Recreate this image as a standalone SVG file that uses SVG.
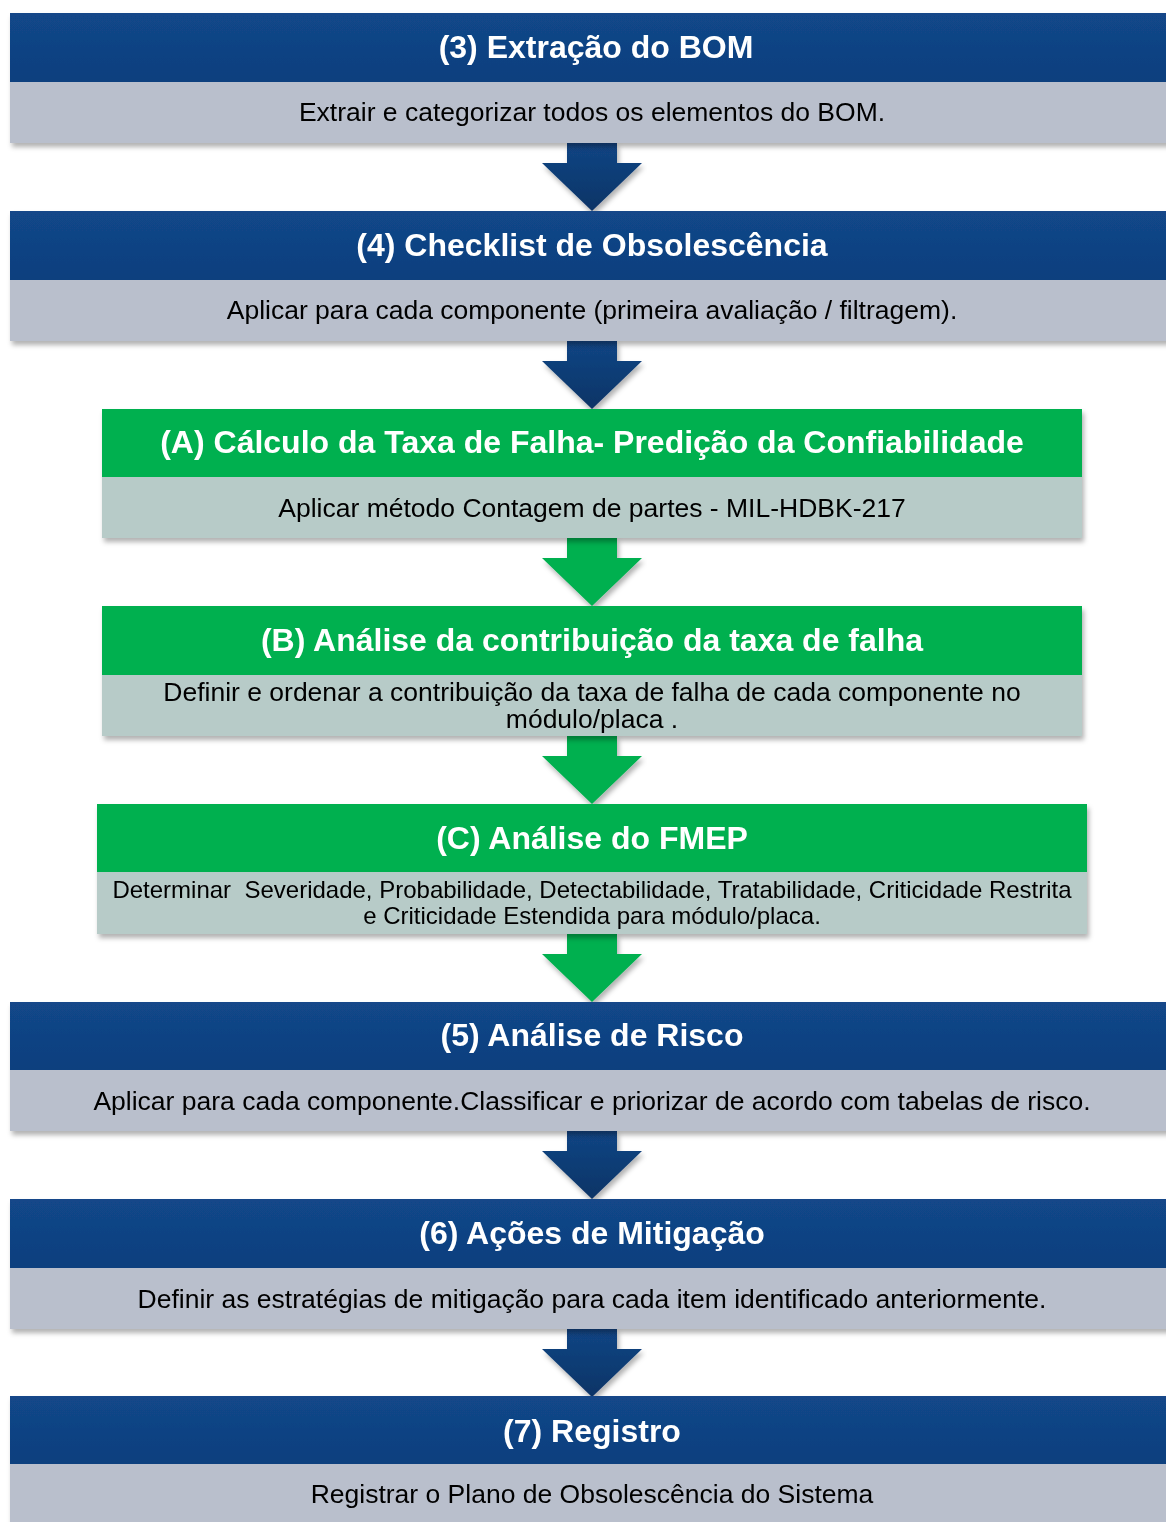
<svg xmlns="http://www.w3.org/2000/svg" width="1166" height="1522" viewBox="0 0 1166 1522">
<defs>
<style>
.hb{fill:url(#gb)}
.hg{fill:#00b050}
.bb{fill:#b9bfcc}
.bg{fill:#b7cbc8}
.t{font-family:"Liberation Sans",Arial,sans-serif;font-weight:bold;font-size:32px;fill:#fff;text-anchor:middle}
.d{font-family:"Liberation Sans",Arial,sans-serif;font-size:26.5px;fill:#000;text-anchor:middle}
.dc{font-family:"Liberation Sans",Arial,sans-serif;font-size:24px;fill:#000;text-anchor:middle;white-space:pre}
.ab{fill:url(#ga)}
.ag{fill:#00b050}
</style>
<linearGradient id="gb" x1="0" y1="0" x2="0" y2="1">
<stop offset="0" stop-color="#124789"/>
<stop offset="1" stop-color="#0f3f7e"/>
</linearGradient>
<linearGradient id="ga" x1="0" y1="0" x2="0" y2="1">
<stop offset="0" stop-color="#124584"/>
<stop offset="1" stop-color="#0d3466"/>
</linearGradient>
<filter id="sh" x="-5%" y="-20%" width="110%" height="150%">
<feDropShadow dx="2" dy="4" stdDeviation="2.5" flood-color="#000" flood-opacity="0.3"/>
</filter>
<path id="arr" d="M-25,0 H25 V20 H50 L0,68 L-50,20 H-25 Z"/>
</defs>
<rect width="1166" height="1522" fill="#fff"/>
<g id="connectors" filter="url(#sh)">
<use href="#arr" x="592" y="143" class="ab"/>
<use href="#arr" x="592" y="341" class="ab"/>
<use href="#arr" x="592" y="538" class="ag"/>
<use href="#arr" x="592" y="736" class="ag"/>
<use href="#arr" x="592" y="934" class="ag"/>
<use href="#arr" x="592" y="1131" class="ab"/>
<use href="#arr" x="592" y="1329" class="ab"/>
</g>
<g id="n3" filter="url(#sh)">
<rect x="10" y="13" width="1170" height="69" class="hb"/>
<rect x="10" y="82" width="1170" height="61" class="bb"/>
</g>
<text x="596" y="58" class="t">(3) Extração do BOM</text>
<text x="592" y="121" class="d">Extrair e categorizar todos os elementos do BOM.</text>
<g id="n4" filter="url(#sh)">
<rect x="10" y="211" width="1170" height="69" class="hb"/>
<rect x="10" y="280" width="1170" height="61" class="bb"/>
</g>
<text x="592" y="256" class="t">(4) Checklist de Obsolescência</text>
<text x="592" y="319" class="d">Aplicar para cada componente (primeira avaliação / filtragem).</text>
<g id="nA" filter="url(#sh)">
<rect x="102" y="409" width="980" height="68" class="hg"/>
<rect x="102" y="477" width="980" height="61" class="bg"/>
</g>
<text x="592" y="453" class="t">(A) Cálculo da Taxa de Falha- Predição da Confiabilidade</text>
<text x="592" y="517" class="d">Aplicar método Contagem de partes - MIL-HDBK-217</text>
<g id="nB" filter="url(#sh)">
<rect x="102" y="606" width="980" height="69" class="hg"/>
<rect x="102" y="675" width="980" height="61" class="bg"/>
</g>
<text x="592" y="651" class="t">(B) Análise da contribuição da taxa de falha</text>
<text x="592" y="701" class="d">Definir e ordenar a contribuição da taxa de falha de cada componente no</text>
<text x="592" y="728" class="d">módulo/placa .</text>
<g id="nC" filter="url(#sh)">
<rect x="97" y="804" width="990" height="68" class="hg"/>
<rect x="97" y="872" width="990" height="62" class="bg"/>
</g>
<text x="592" y="849" class="t">(C) Análise do FMEP</text>
<text x="592" y="898" class="dc">Determinar  Severidade, Probabilidade, Detectabilidade, Tratabilidade, Criticidade Restrita</text>
<text x="592" y="924" class="dc">e Criticidade Estendida para módulo/placa.</text>
<g id="n5" filter="url(#sh)">
<rect x="10" y="1002" width="1170" height="68" class="hb"/>
<rect x="10" y="1070" width="1170" height="61" class="bb"/>
</g>
<text x="592" y="1046" class="t">(5) Análise de Risco</text>
<text x="592" y="1110" class="d">Aplicar para cada componente.Classificar e priorizar de acordo com tabelas de risco.</text>
<g id="n6" filter="url(#sh)">
<rect x="10" y="1199" width="1170" height="69" class="hb"/>
<rect x="10" y="1268" width="1170" height="61" class="bb"/>
</g>
<text x="592" y="1244" class="t">(6) Ações de Mitigação</text>
<text x="592" y="1308" class="d">Definir as estratégias de mitigação para cada item identificado anteriormente.</text>
<g id="n7" filter="url(#sh)">
<rect x="10" y="1396" width="1170" height="68" class="hb"/>
<rect x="10" y="1464" width="1170" height="70" class="bb"/>
</g>
<text x="592" y="1442" class="t">(7) Registro</text>
<text x="592" y="1503" class="d">Registrar o Plano de Obsolescência do Sistema</text>
</svg>
